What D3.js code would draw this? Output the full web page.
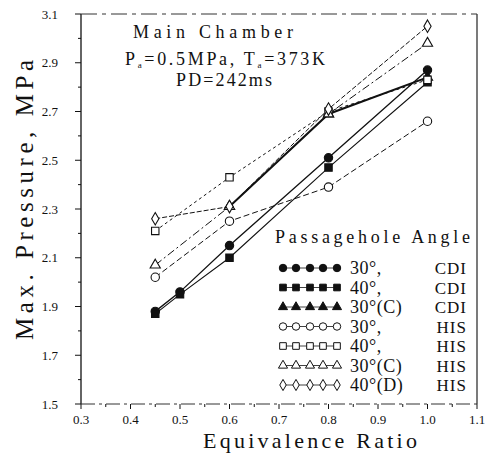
<!DOCTYPE html>
<html>
<head>
<meta charset="utf-8">
<script src="https://cdn.jsdelivr.net/npm/d3@7"></script>
<style>
  body { margin: 0; background: #fff; }
</style>
</head>
<body>
<div id="chart"></div>
<script>
// values (equivalence ratio vs max pressure, MPa)
const xTicks = [0.3, 0.4, 0.5, 0.6, 0.7, 0.8, 0.9, 1.0, 1.1];
const yTicks = [1.5, 1.7, 1.9, 2.1, 2.3, 2.5, 2.7, 2.9, 3.1];

const cdi30_x = [0.45, 0.5, 0.6, 0.8, 1.0];
const cdi30_y = [1.88, 1.96, 2.15, 2.51, 2.87];
const cdi40_x = [0.45, 0.5, 0.6, 0.8, 1.0];
const cdi40_y = [1.87, 1.95, 2.10, 2.47, 2.82];
const cdi30c_x = [0.6, 0.8, 1.0];
const cdi30c_y = [2.31, 2.69, 2.84];
const his30_x = [0.45, 0.6, 0.8, 1.0];
const his30_y = [2.02, 2.25, 2.39, 2.66];
const his40_x = [0.45, 0.6, 0.8, 1.0];
const his40_y = [2.21, 2.43, 2.70, 2.83];
const his30c_x = [0.45, 0.6, 0.8, 1.0];
const his30c_y = [2.07, 2.31, 2.69, 2.98];
const his40d_x = [0.45, 0.6, 0.8, 1.0];
const his40d_y = [2.26, 2.31, 2.71, 3.05];

const legendAngles = ["30°,", "40°,", "30°(C)", "30°,", "40°,", "30°(C)", "40°(D)"];
const legendModes = ["CDI", "CDI", "CDI", "HIS", "HIS", "HIS", "HIS"];

const series = [
  {xs: cdi30_x, ys: cdi30_y, sym: d3.symbolCircle, fill: true, dash: null, w: 1.3},
  {xs: cdi40_x, ys: cdi40_y, sym: d3.symbolSquare, fill: true, dash: null, w: 1.1},
  {xs: cdi30c_x, ys: cdi30c_y, sym: d3.symbolTriangle, fill: true, dash: null, w: 2},
  {xs: his30_x, ys: his30_y, sym: d3.symbolCircle, fill: false, dash: "6,3", w: 1},
  {xs: his40_x, ys: his40_y, sym: d3.symbolSquare, fill: false, dash: "3,3", w: 1},
  {xs: his30c_x, ys: his30c_y, sym: d3.symbolTriangle, fill: false, dash: "8,3,2,3", w: 1},
  {xs: his40d_x, ys: his40d_y, sym: d3.symbolDiamond, fill: false, dash: "5,2", w: 1}
];

const FONT = "'Liberation Serif', 'DejaVu Serif', 'Times New Roman', serif";
const W = 491, H = 454;
const plot = {left: 81, right: 477, top: 14, bottom: 404};

const svg = d3.select("#chart").append("svg")
  .attr("width", W).attr("height", H)
  .attr("font-family", FONT);

const x = d3.scaleLinear().domain([0.3, 1.1]).range([plot.left, plot.right]);
const y = d3.scaleLinear().domain([1.5, 3.1]).range([plot.bottom, plot.top]);

// frame
svg.append("line").attr("x1", plot.left).attr("x2", plot.left)
  .attr("y1", plot.top).attr("y2", plot.bottom)
  .attr("stroke", "#111").attr("stroke-width", 1.3);
svg.append("line").attr("x1", plot.right).attr("x2", plot.right)
  .attr("y1", plot.top).attr("y2", plot.bottom)
  .attr("stroke", "#222").attr("stroke-width", 1.2);
svg.append("line").attr("x1", plot.left).attr("x2", plot.right)
  .attr("y1", plot.top).attr("y2", plot.top)
  .attr("stroke", "#333").attr("stroke-width", 1).attr("stroke-dasharray", "16,5,4,5");
svg.append("line").attr("x1", plot.left).attr("x2", plot.right)
  .attr("y1", plot.bottom).attr("y2", plot.bottom)
  .attr("stroke", "#333").attr("stroke-width", 1).attr("stroke-dasharray", "14,4,3,4");

// y ticks
const yAxis = svg.append("g");
yTicks.forEach(function(t) {
  yAxis.append("line").attr("x1", plot.left - 6).attr("x2", plot.left)
    .attr("y1", y(t)).attr("y2", y(t)).attr("stroke", "#111");
  yAxis.append("text").attr("x", 58).attr("y", y(t) + 4.5)
    .attr("text-anchor", "end").attr("font-size", 13).attr("fill", "#111")
    .text(t.toFixed(1));
});
d3.range(1.6, 3.05, 0.2).forEach(function(t) {
  yAxis.append("line").attr("x1", plot.left - 3).attr("x2", plot.left)
    .attr("y1", y(t)).attr("y2", y(t)).attr("stroke", "#111");
});

// x ticks
const xAxis = svg.append("g");
xTicks.forEach(function(t) {
  xAxis.append("line").attr("x1", x(t)).attr("x2", x(t))
    .attr("y1", plot.bottom).attr("y2", plot.bottom + 5).attr("stroke", "#111");
  xAxis.append("text").attr("x", x(t)).attr("y", 424)
    .attr("text-anchor", "middle").attr("font-size", 13).attr("fill", "#111")
    .text(t.toFixed(1));
});
d3.range(0.35, 1.1, 0.1).forEach(function(t) {
  xAxis.append("line").attr("x1", x(t)).attr("x2", x(t))
    .attr("y1", plot.bottom).attr("y2", plot.bottom + 3).attr("stroke", "#111");
});

// axis titles
svg.append("text").attr("x", 203).attr("y", 448).attr("fill", "#111")
  .attr("font-size", 22).attr("textLength", 214).attr("lengthAdjust", "spacing")
  .text("Equivalence Ratio");
svg.append("text").attr("transform", "translate(33,340) rotate(-90)").attr("fill", "#111")
  .attr("font-size", 25).attr("textLength", 280).attr("lengthAdjust", "spacing")
  .text("Max. Pressure, MPa");

// condition text
svg.append("text").attr("x", 133).attr("y", 38).attr("font-size", 18).attr("fill", "#111")
  .attr("textLength", 160).attr("lengthAdjust", "spacing").text("Main Chamber");
const cond = svg.append("text").attr("x", 125).attr("y", 65).attr("font-size", 18)
  .attr("fill", "#111").attr("textLength", 200).attr("lengthAdjust", "spacing");
cond.append("tspan").text("P");
cond.append("tspan").attr("font-size", 9).attr("dy", 3).text("a");
cond.append("tspan").attr("dy", -3).text("=0.5MPa, T");
cond.append("tspan").attr("font-size", 9).attr("dy", 3).text("a");
cond.append("tspan").attr("dy", -3).text("=373K");
svg.append("text").attr("x", 176).attr("y", 86).attr("font-size", 18).attr("fill", "#111")
  .attr("textLength", 96).attr("lengthAdjust", "spacing").text("PD=242ms");

// lines and markers
const line = d3.line().x(d => x(d[0])).y(d => y(d[1]));
function sz(sym) {
  if (sym === d3.symbolCircle) return 55;
  if (sym === d3.symbolSquare) return 55;
  return 45;
}

series.forEach(function(s) {
  const pts = s.xs.map((v, i) => [v, s.ys[i]]);
  svg.append("path").datum(pts).attr("d", line)
    .attr("fill", "none").attr("stroke", "#111").attr("stroke-width", s.w)
    .attr("stroke-dasharray", s.dash);
});
series.forEach(function(s) {
  const pts = s.xs.map((v, i) => [v, s.ys[i]]);
  svg.selectAll(null).data(pts).enter().append("path")
    .attr("transform", d => "translate(" + x(d[0]) + "," + y(d[1]) + ")")
    .attr("d", d3.symbol().type(s.sym).size(sz(s.sym)))
    .attr("fill", s.fill ? "#111" : "#fff")
    .attr("stroke", "#111").attr("stroke-width", 1.1);
});

// legend
const lg = svg.append("g");
lg.append("rect").attr("x", 272).attr("y", 226).attr("width", 202).attr("height", 170).attr("fill", "#fff");
lg.append("text").attr("x", 275).attr("y", 243).attr("font-size", 18).attr("fill", "#111")
  .attr("textLength", 195).attr("lengthAdjust", "spacing").text("Passagehole Angle");
const mx = [283, 296, 310, 323, 337];
series.forEach(function(s, i) {
  const cy = 268 + i * 19.5;
  lg.append("line").attr("x1", mx[0]).attr("x2", mx[4]).attr("y1", cy).attr("y2", cy)
    .attr("stroke", "#111").attr("stroke-width", 0.8);
  mx.forEach(function(px) {
    lg.append("path").attr("transform", "translate(" + px + "," + cy + ")")
      .attr("d", d3.symbol().type(s.sym).size(sz(s.sym) * 0.8))
      .attr("fill", s.fill ? "#111" : "#fff").attr("stroke", "#111").attr("stroke-width", 1);
  });
  lg.append("text").attr("x", 350).attr("y", cy + 6).attr("font-size", 18).attr("fill", "#111")
    .attr("letter-spacing", 0.5).text(legendAngles[i]);
  lg.append("text").attr("x", 467).attr("y", cy + 6).attr("font-size", 17).attr("fill", "#111")
    .attr("text-anchor", "end").attr("letter-spacing", 1).text(legendModes[i]);
});
</script>
</body>
</html>
